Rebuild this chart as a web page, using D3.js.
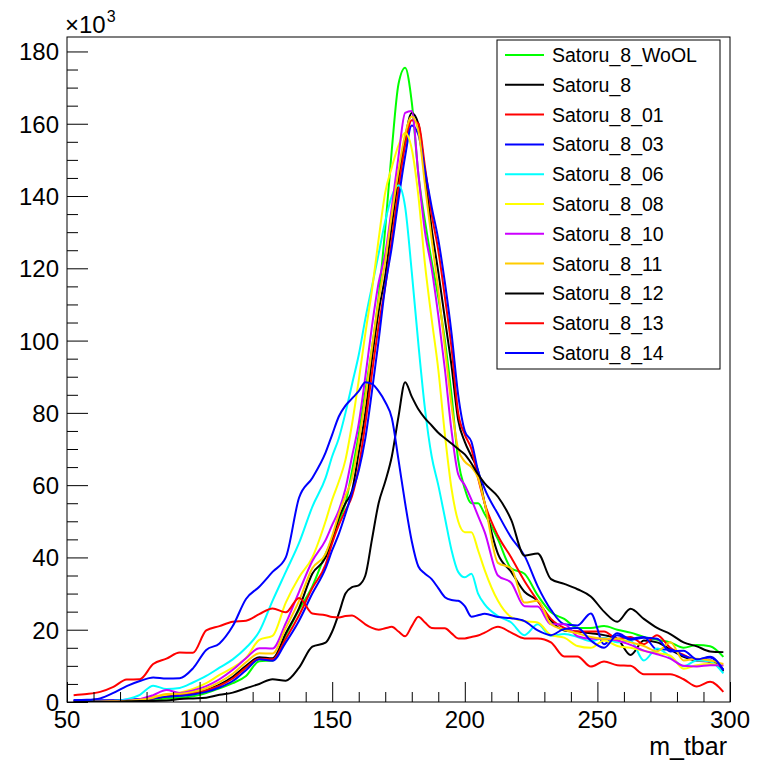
<!DOCTYPE html>
<html>
<head>
<meta charset="utf-8">
<script src="https://cdn.jsdelivr.net/npm/d3@7"></script>
<style>
  html, body { margin: 0; padding: 0; background: #fff; }
  svg { display: block; }
  text { font-family: "Liberation Sans", Arial, Helvetica, sans-serif; fill: #000; }
</style>
</head>
<body>
<svg id="chart" width="762" height="763"></svg>
<script>
// ---------------- DATA ----------------
const mTbar = [52.5, 57.5, 62.5, 67.5, 72.5, 77.5, 82.5, 87.5, 92.5, 97.5,
  102.5, 107.5, 112.5, 117.5, 122.5, 127.5, 132.5, 137.5, 142.5, 147.5,
  150, 152.5, 155, 157.5, 160, 162.5, 165, 167.5, 170, 172.5, 175, 177.5, 180, 182.5, 185, 187.5, 190, 192.5, 195, 197.5, 200, 202.5, 205,
  207.5, 212.5, 217.5, 222.5, 227.5, 232.5, 237.5, 242.5, 247.5, 252.5, 257.5, 262.5, 267.5, 272.5, 277.5, 282.5, 287.5, 292.5, 297.5];

// values in units of 10^3
const satoru8WoOL = [0, 0, 0, 0.1, 0.1, 0.3, 0.5, 1.0, 1.2, 1.6,
  2.5, 3.8, 5.2, 7.2, 11.3, 11.5, 18.5, 25.5, 32, 41,
  45, 50, 55, 64, 74, 86, 98, 112, 131, 153, 171, 175.5, 166, 146, 133, 122, 112, 100, 85, 67, 59, 55, 55,
  52, 45, 37, 35.5, 29.5, 24.8, 23, 20.5, 20.5, 21, 20, 19.2, 18, 17.2, 16.5, 15, 15.8, 15.4, 12.5];
const satoru8 = [0.1, 0.1, 0.1, 0.2, 0.3, 0.5, 1.0, 1.5, 1.8, 2.2,
  3.3, 4.8, 7.0, 10, 12.4, 12.1, 19, 26, 35.5, 40,
  45, 51, 55, 58.5, 69, 80, 95, 108, 118, 132, 145, 156, 163, 160, 146, 131, 119, 106, 93, 78, 72, 68, 64,
  55, 41, 36, 30.5, 28, 22.5, 19.8, 19.5, 19, 18.5, 17.5, 13, 17, 16.5, 14.5, 12.5, 11.5, 11.5, 8.5];
const satoru8_01 = [0.3, 0.3, 0.3, 0.4, 0.5, 0.7, 1.0, 1.6, 2.0, 2.4,
  3.2, 4.5, 6.5, 9.5, 12, 11.8, 17.5, 24, 31.5, 38,
  44, 49, 53, 57, 65, 77, 91, 104, 115, 128, 142, 154, 161, 160, 148, 135, 125, 112, 98, 80, 74, 70, 62,
  55, 46, 40, 33.5, 28, 23, 20.5, 19.5, 19.5, 19.5, 17.5, 18, 16, 18.5, 15, 13, 11.5, 11, 9];
const satoru8_03 = [0.5, 0.5, 0.5, 0.5, 0.6, 0.8, 1.0, 1.5, 1.7, 2.1,
  2.8, 4.0, 5.8, 8.8, 11.8, 11.4, 16.5, 22.5, 30, 37,
  42, 46.5, 52, 58, 64, 73, 86, 100, 115, 126, 139, 151, 159.5, 157, 147, 137, 128, 116, 102, 85, 75, 72, 64,
  59, 52, 45.5, 40.5, 32, 25.5, 21.5, 21.2, 24.5, 16, 19, 17.5, 18, 14.5, 14.5, 12.8, 11.8, 12.3, 8.8];
const satoru8_06 = [0, 0.05, 0.1, 0.3, 0.8, 2.0, 4.5, 3.6, 3.9, 5.4,
  7.2, 9.5, 11.8, 15.0, 19.5, 28, 36, 44, 54, 62,
  68, 73, 80, 88, 96, 106, 115, 124, 133, 140, 143, 137, 119, 99, 81, 68, 60, 51, 42, 36, 34.5, 35.5, 30,
  27, 23.8, 22, 18.5, 21.5, 18.3, 18.8, 18, 16.8, 17.8, 16.5, 17, 11.5, 14.8, 12.5, 9.9, 11.5, 11.2, 7.9];
const satoru8_08 = [0, 0, 0.1, 0.2, 0.3, 0.6, 1.5, 2.0, 2.6, 3.6,
  5.2, 7.5, 9.5, 12.2, 17.2, 18.3, 27.5, 34.5, 40, 50,
  56, 61, 67, 77, 89, 102, 114, 128, 141, 148, 154, 157.5, 153, 140, 121, 106, 92, 74, 59, 50, 47, 47, 42,
  36.5, 28, 23.5, 22.4, 22, 18.5, 17.8, 15.5, 15, 17, 15.5, 15, 14.2, 13.5, 12.8, 9.2, 10.2, 10.5, 10];
const satoru8_10 = [0, 0, 0.1, 0.2, 0.4, 0.8, 1.9, 3.3, 2.5, 3.2,
  4.4, 6.3, 8.9, 12.1, 14.9, 14.8, 21.8, 30.5, 39, 44.8,
  49, 53, 59, 68, 77, 90, 104, 116, 124, 137, 151, 163, 163.5, 146, 130, 120, 107, 92, 75, 63, 60, 56, 51.5,
  47, 35, 33, 26.5, 26.4, 21.5, 21.5, 18.2, 17.5, 17.5, 17, 15.8, 14.2, 13.2, 12, 10, 9.8, 10.2, 10.2];
const satoru8_11 = [0, 0, 0.1, 0.2, 0.3, 0.6, 1.2, 2.2, 2.3, 2.8,
  3.8, 5.5, 7.8, 11, 13.5, 13.4, 20.5, 28, 37, 41,
  46, 52, 57, 62, 72, 84, 98, 111, 122, 135, 147, 157, 162, 158, 143, 128, 114, 98, 82, 70, 66.5, 65, 62,
  55, 38.5, 37, 27.5, 28, 21.5, 20, 19, 18, 17.5, 17.5, 16.5, 15.5, 14, 16.5, 11.5, 12, 11.5, 10.5];
const satoru8_12 = [0.1, 0.1, 0.1, 0.1, 0.2, 0.3, 0.3, 0.4, 0.8, 1.0,
  1.2, 2.0, 2.6, 3.8, 5.0, 6.3, 5.9, 9.5, 15.3, 16.4,
  19.5, 24.5, 30, 31.8, 32.3, 35, 45, 55, 61, 68, 79, 88.5, 84.5, 81, 78.5, 76.5, 74.5, 73, 71.5, 70, 68.5, 66, 63,
  60.5, 56.8, 50.4, 40.5, 41.1, 34, 32.7, 31.2, 29.2, 25, 22.2, 25.8, 23, 20.5, 18.8, 16.5, 15.4, 14, 13.8];
const satoru8_13 = [1.9, 2.2, 2.8, 4.2, 6.2, 6.3, 10.5, 12, 13.7, 13.6,
  19.8, 21, 22.2, 22.5, 24.3, 25.9, 24.8, 28.8, 24.5, 24.0,
  23.5, 23.4, 23.8, 23.9, 22.9, 21.5, 20.5, 20.0, 20.4, 20.8, 19.5, 18.2, 21, 23.6, 22, 20.5, 20.4, 20.4, 19.0, 17.6, 17.6, 18.0, 18.4,
  19.2, 20.8, 19.2, 17.6, 17.6, 16.5, 12.6, 12.6, 9.8, 11.2, 10.2, 10.0, 7.7, 7.7, 7.7, 6.3, 4.3, 5.6, 2.8];
const satoru8_14 = [0.5, 0.6, 1.0, 2.5, 4.4, 5.8, 6.8, 6.5, 6.6, 9.3,
  14.4, 16.2, 21, 28.5, 31.9, 36, 40, 56.5, 62, 69,
  74, 79, 82, 84, 86, 88.5, 88, 86, 83, 78.5, 67, 55, 44.5, 37.5, 35.5, 34, 31.5, 29, 28.2, 28, 26.5, 23.6, 24,
  24.4, 23.5, 23.2, 22.4, 19.8, 18.5, 20.2, 20.5, 17, 15, 18.5, 17.2, 17.8, 17.5, 14, 14.2, 11.8, 12.5, 8.9];

const seriesNames = ["Satoru_8_WoOL", "Satoru_8", "Satoru_8_01", "Satoru_8_03", "Satoru_8_06",
  "Satoru_8_08", "Satoru_8_10", "Satoru_8_11", "Satoru_8_12", "Satoru_8_13", "Satoru_8_14"];
const seriesValues = [satoru8WoOL, satoru8, satoru8_01, satoru8_03, satoru8_06,
  satoru8_08, satoru8_10, satoru8_11, satoru8_12, satoru8_13, satoru8_14];
const seriesColors = ["#00ff00", "#000000", "#ff0000", "#0000ff", "#00ffff",
  "#ffff00", "#cc00ff", "#ffcc00", "#000000", "#ff0000", "#0000ff"];

const xTickValues = [50, 100, 150, 200, 250, 300];
const yTickValues = [0, 20, 40, 60, 80, 100, 120, 140, 160, 180];
const xAxisTitle = "m_tbar";

// ---------------- LAYOUT ----------------
const frame = { left: 67, right: 730, top: 37, bottom: 702 };
const svg = d3.select("#chart");
svg.append("rect").attr("width", 762).attr("height", 763).attr("fill", "#fff");

const x = d3.scaleLinear().domain([50, 300]).range([frame.left, frame.right]);
const y = d3.scaleLinear().domain([0, 184]).range([frame.bottom, frame.top]);

svg.append("clipPath").attr("id", "clip").append("rect")
  .attr("x", frame.left).attr("y", frame.top)
  .attr("width", frame.right - frame.left).attr("height", frame.bottom - frame.top);

const line = d3.line()
  .x((d, i) => x(mTbar[i]))
  .y(d => y(d))
  .curve(d3.curveMonotoneX);

const gLines = svg.append("g").attr("clip-path", "url(#clip)");
seriesValues.forEach((vals, k) => {
  gLines.append("path")
    .datum(vals)
    .attr("fill", "none")
    .attr("stroke", seriesColors[k])
    .attr("stroke-width", 2)
    .attr("stroke-linejoin", "round")
    .attr("d", line);
});

// frame
svg.append("rect")
  .attr("x", frame.left).attr("y", frame.top)
  .attr("width", frame.right - frame.left).attr("height", frame.bottom - frame.top)
  .attr("fill", "none").attr("stroke", "#000").attr("stroke-width", 1);

// x axis (ticks pointing up inside)
const xAxis = d3.axisTop(x)
  .tickValues(d3.range(50, 301, 10))
  .tickSize(10)
  .tickFormat("");
const gx = svg.append("g").attr("transform", `translate(0,${frame.bottom})`).call(xAxis);
gx.select(".domain").remove();
gx.selectAll(".tick line").attr("stroke", "#000").attr("stroke-width", 1)
  .attr("y2", d => xTickValues.includes(d) ? -20 : -10);
xTickValues.forEach(v => {
  svg.append("text")
    .attr("x", x(v)).attr("y", frame.bottom + 26)
    .attr("text-anchor", "middle")
    .attr("font-size", 24)
    .text(v);
});

// y axis (ticks pointing right inside)
const yAxis = d3.axisRight(y)
  .tickValues(d3.range(0, 184, 5))
  .tickSize(11)
  .tickFormat("");
const gy = svg.append("g").attr("transform", `translate(${frame.left},0)`).call(yAxis);
gy.select(".domain").remove();
gy.selectAll(".tick line").attr("stroke", "#000").attr("stroke-width", 1)
  .attr("x2", d => yTickValues.includes(d) ? 21 : 11);
yTickValues.forEach(v => {
  svg.append("text")
    .attr("x", frame.left - 8).attr("y", y(v) + 9)
    .attr("text-anchor", "end")
    .attr("font-size", 24)
    .text(v);
});

// x10^3 multiplier (two separate text elements)
const multMain = svg.append("text")
  .attr("x", 65).attr("y", 33)
  .attr("font-size", 24)
  .text("\u00d710");
const mw = multMain.node().getComputedTextLength();
svg.append("text")
  .attr("x", 65 + mw + 1).attr("y", 22)
  .attr("font-size", 16)
  .text("3");

// axis title
svg.append("text")
  .attr("x", 727).attr("y", 755)
  .attr("text-anchor", "end")
  .attr("font-size", 25)
  .text(xAxisTitle);

// legend
const leg = { x: 497, y: 40, w: 223, h: 329 };
svg.append("rect")
  .attr("x", leg.x).attr("y", leg.y).attr("width", leg.w).attr("height", leg.h)
  .attr("fill", "#fff").attr("stroke", "#000").attr("stroke-width", 1);
seriesNames.forEach((name, k) => {
  const yy = 55 + k * 29.8;
  svg.append("line")
    .attr("x1", 505).attr("x2", 544).attr("y1", yy).attr("y2", yy)
    .attr("stroke", seriesColors[k]).attr("stroke-width", 2);
  svg.append("text")
    .attr("x", 552).attr("y", yy + 7)
    .attr("font-size", 19.5)
    .text(name);
});
</script>
</body>
</html>
